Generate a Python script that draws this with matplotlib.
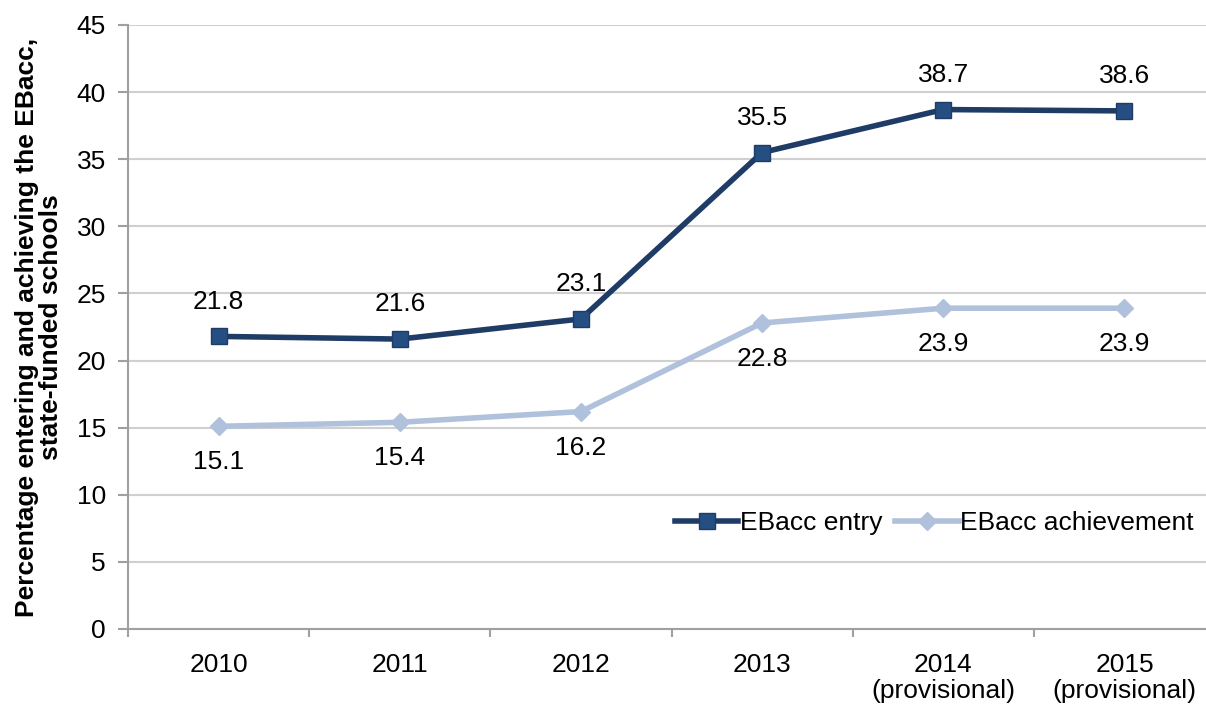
import matplotlib.pyplot as plt
import numpy as np

plt.rcParams['font.family'] = ['Liberation Sans', 'DejaVu Sans']

years = ['2010', '2011', '2012', '2013', '2014\n(provisional)', '2015\n(provisional)']
entry = [21.8, 21.6, 23.1, 35.5, 38.7, 38.6]
achievement = [15.1, 15.4, 16.2, 22.8, 23.9, 23.9]

fig = plt.figure(figsize=(12.06, 7.04), dpi=100)
ax = fig.add_axes([128 / 1206, 1 - 629 / 704, 1078 / 1206, 604 / 704])

x = np.arange(len(years))
ax.plot(x, entry, color='#1F3C66', lw=4, marker='s', ms=11,
        mfc='#254E83', mec='#1F3C66', label='EBacc entry', zorder=3)
ax.plot(x, achievement, color='#B0C1DB', lw=4, marker='D', ms=9,
        mfc='#B0C1DB', mec='#B0C1DB', label='EBacc achievement', zorder=3)

for xi, v in zip(x, entry):
    ax.annotate(f'{v:.1f}', (xi, v), xytext=(0, 25), textcoords='offset points',
                ha='center', va='center', fontsize=19)
for xi, v in zip(x, achievement):
    ax.annotate(f'{v:.1f}', (xi, v), xytext=(0, -26), textcoords='offset points',
                ha='center', va='center', fontsize=19)

ax.set_xlim(-0.5, 5.45)
ax.set_ylim(0, 45)
ax.set_yticks(range(0, 46, 5))
ax.set_xticks(x)
ax.set_xticklabels(years, fontsize=19, linespacing=1.15)
ax.set_xticks(np.arange(-0.5, 5.5, 1), minor=True)
ax.tick_params(axis='x', which='major', length=0, pad=17)
ax.tick_params(axis='x', which='minor', length=6, color='#A0A0A0', width=1.5)
ax.tick_params(axis='y', labelsize=19, length=7, color='#A0A0A0', width=1.5, pad=9)

ax.grid(axis='y', color='#D0D0D0', lw=1.5)
ax.set_axisbelow(True)
for s in ['top', 'right']:
    ax.spines[s].set_visible(False)
for s in ['left', 'bottom']:
    ax.spines[s].set_color('#A0A0A0')
    ax.spines[s].set_linewidth(1.5)

ax.set_ylabel('Percentage entering and achieving the EBacc,\nstate-funded schools',
              fontsize=19, fontweight='bold', labelpad=10, linespacing=1.0)

ax.legend(loc='center', bbox_to_anchor=(0.748, 0.175), ncol=2, frameon=False,
          fontsize=19, handlelength=2.4, columnspacing=0.5, handletextpad=0.05)

plt.savefig('out.png', dpi=100)
